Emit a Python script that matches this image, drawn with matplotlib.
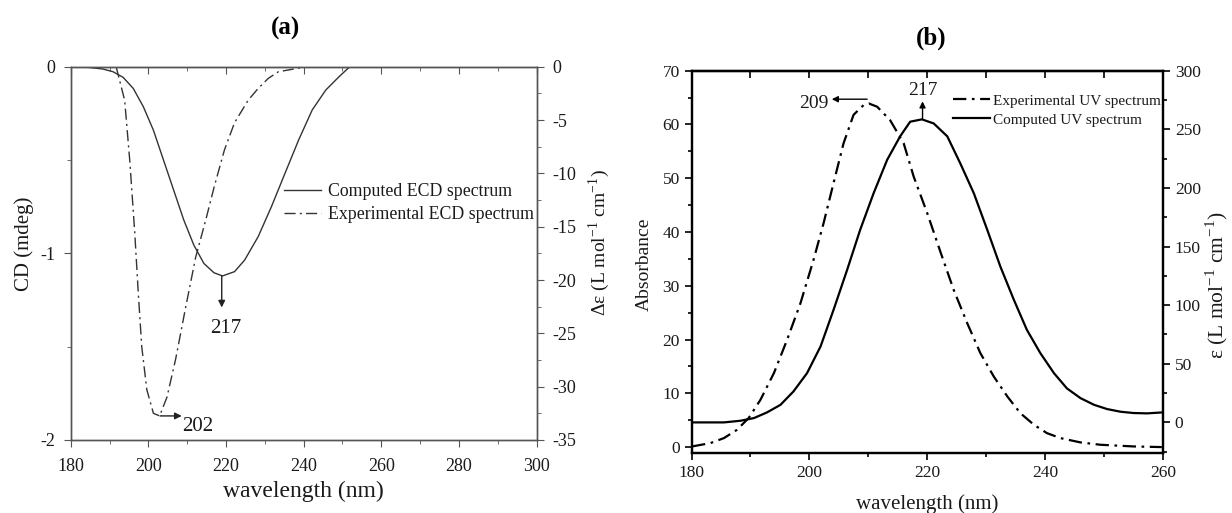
import matplotlib
matplotlib.use("Agg")
import matplotlib.pyplot as plt
from matplotlib.ticker import MultipleLocator

plt.rcParams['font.family'] = ['Liberation Serif', 'DejaVu Serif']
plt.rcParams['mathtext.fontset'] = 'stix'

# ---------------- Panel (a): ECD ----------------
ecd_comp_wl = [179.6, 184.8, 188.3, 190.9, 193.5, 196.1, 198.7, 201.3, 203.9, 206.5,
               209.1, 211.7, 214.3, 216.9, 219.1, 222.2, 224.8, 228.3, 231.7, 235.2,
               238.7, 242.2, 245.7, 249.1, 252.6]
ecd_comp_cd = [0, -0.004, -0.0125, -0.027, -0.057, -0.116, -0.214, -0.34, -0.5, -0.66,
               -0.82, -0.955, -1.054, -1.104, -1.121, -1.098, -1.036, -0.91, -0.75, -0.571,
               -0.393, -0.232, -0.125, -0.054, 0.014]
ecd_exp_wl = [191.7, 193.9, 195.2, 196.5, 197.4, 198.3, 199.6, 201.3, 202.9, 204.8,
              207, 209.6, 212.2, 214.8, 217, 219.6, 222.2, 225.7, 228.3, 230.9,
              233.5, 237, 239.6]
ecd_exp_cd = [0, -0.18, -0.5, -0.89, -1.21, -1.5, -1.73, -1.857, -1.871, -1.77,
              -1.57, -1.29, -1.02, -0.82, -0.64, -0.446, -0.30, -0.18, -0.116, -0.0625,
              -0.027, -0.014, -0.004]

# ---------------- Panel (b): UV ----------------
uv_exp_wl = [180.1, 183.2, 185.5, 187.7, 189.7, 191.7, 194, 196.2, 198.5, 200.7,
             202.4, 204.1, 205.8, 207.5, 209.2, 210.1, 211.5, 213.7, 216, 217.7,
             220, 222.3, 224.5, 226.8, 229, 231.3, 233.6, 235.8, 238.1, 240.3,
             242.6, 246, 249.4, 255, 259.8]
uv_exp_abs = [0.12, 0.74, 1.67, 3.2, 5.4, 8.8, 13.8, 19.9, 26.8, 34.8,
              41.6, 49.1, 56.5, 61.8, 63.6, 63.9, 63.3, 60.8, 56.5, 50.3,
              43.5, 36.1, 29.2, 23.0, 17.5, 13.1, 9.4, 6.3, 4.15, 2.6,
              1.67, 0.87, 0.43, 0.12, 0]
uv_comp_wl = [180.1, 185.5, 188.3, 190.6, 192.8, 195.1, 197.3, 199.6, 201.9, 204.1,
              206.4, 208.6, 210.9, 213.2, 215.4, 217.1, 219.1, 221.1, 223.4, 225.6,
              227.9, 230.2, 232.4, 234.7, 236.9, 239.2, 241.5, 243.7, 246, 248.3,
              250.5, 252.8, 255, 257.3, 259.8]
uv_comp_eps = [0, 0, 1.4, 3.7, 8.5, 15, 26.4, 42, 64.8, 96,
               130, 164, 195.5, 224, 244, 256.5, 258.5, 255, 244, 221,
               195.5, 164, 133, 104.5, 79, 59, 42, 29, 20.7, 15,
               11.4, 9.1, 8, 7.7, 8.5]

W, H = 1232, 513
fig = plt.figure(figsize=(W / 100, H / 100), dpi=100)

txt = '#1a1a1a'
dashdot_a = (0, (8, 3, 1.5, 3))
dashdot_b = (0, (6, 2.5, 1.2, 2.5))
sup = r'$^{\mathregular{-1}}$'

# ---- Panel (a)
a_l, a_r, a_t, a_b = 70.7, 536.6, 66.7, 440.0
aw, ah = a_r - a_l, a_b - a_t
axa = fig.add_axes([a_l / W, 1 - a_b / H, aw / W, ah / H])
axa2 = axa.twinx()
axa.plot(ecd_exp_wl, ecd_exp_cd, color='#333333', lw=1.0, linestyle=dashdot_a,
         label='Experimental ECD spectrum')
comp_de = [v * 17.5 for v in ecd_comp_cd]
axa2.plot(ecd_comp_wl, comp_de, color='#333333', lw=1.0, label='Computed ECD spectrum')
axa.set_xlim(180, 300)
axa.set_ylim(-2, 0)
axa2.set_ylim(-35, 0)
axa.xaxis.set_major_locator(MultipleLocator(20))
axa.xaxis.set_minor_locator(MultipleLocator(10))
axa.set_yticks([0, -1, -2])
axa.set_yticklabels(['0', '-1', '-2'])
axa.yaxis.set_minor_locator(MultipleLocator(0.5))
axa2.set_yticks(list(range(0, -36, -5)))
axa2.set_yticklabels([str(v) for v in range(0, -36, -5)])
axa2.yaxis.set_minor_locator(MultipleLocator(2.5))
for ax in (axa, axa2):
    for s in ax.spines.values():
        s.set_color('#555555')
        s.set_linewidth(1.0)
axa.tick_params(axis='both', which='both', direction='out', colors='#555555',
                labelcolor=txt, labelsize=13)
axa.tick_params(which='major', length=5)
axa.tick_params(which='minor', length=3)
axa.tick_params(axis='x', which='major', pad=8)
axa.tick_params(axis='y', which='major', pad=6)
seca = axa.secondary_xaxis('top')
seca.xaxis.set_major_locator(MultipleLocator(20))
seca.xaxis.set_minor_locator(MultipleLocator(10))
seca.tick_params(which='both', direction='in', colors='#555555', labeltop=False)
seca.tick_params(which='major', length=5)
seca.tick_params(which='minor', length=3)
seca.spines['top'].set_color('#555555')
axa2.tick_params(axis='y', which='both', direction='out', colors='#555555',
                 labelcolor=txt, labelsize=13, pad=6)
axa2.tick_params(which='major', length=5)
axa2.tick_params(which='minor', length=3)
axa.set_xlabel('wavelength (nm)', fontsize=17, color=txt)
axa.xaxis.set_label_coords(0.5, -(481 - a_b) / ah)
axa.set_ylabel('CD (mdeg)', fontsize=15, color=txt)
axa.yaxis.set_label_coords(-(a_l - 34) / aw, (a_b - 244) / ah)
axa2.set_ylabel('Δε (L mol' + sup + ' cm' + sup + ')', fontsize=14, color=txt)
axa2.yaxis.set_label_coords(1 + (587 - a_r) / aw, (a_b - 242) / ah)
fig.text(286 / W, 1 - 28 / H, '(a)', fontsize=18, fontweight='bold', color='black',
         ha='center', va='center')

# annotations (a)
axa2.annotate('', xy=(218.9, -1.29 * 17.5), xytext=(218.9, -1.121 * 17.5),
              arrowprops=dict(arrowstyle='-|>', color='#222222', lw=1.0,
                              mutation_scale=10, shrinkA=0, shrinkB=0))
axa2.text(220.0, -1.40 * 17.5, '217', fontsize=15, color=txt, ha='center', va='center')
axa.annotate('', xy=(208.6, -1.871), xytext=(203.0, -1.871),
             arrowprops=dict(arrowstyle='-|>', color='#222222', lw=1.0,
                             mutation_scale=10, shrinkA=0, shrinkB=0))
axa.text(208.7, -1.925, '202', fontsize=15, color=txt, ha='left', va='center')

# legend (a)
h1, l1 = axa2.get_legend_handles_labels()
h2, l2 = axa.get_legend_handles_labels()
leg = axa2.legend(h1 + h2, l1 + l2, loc='upper left',
                  bbox_to_anchor=((284 - a_l) / aw, 1 - (183 - a_t) / ah),
                  frameon=False, fontsize=12.8, handlelength=2.1, handletextpad=0.4,
                  labelspacing=0.35, borderaxespad=0, borderpad=0)
for t in leg.get_texts():
    t.set_color(txt)

# ---- Panel (b)
b_l, b_r, b_t, b_b = 691.5, 1163.0, 70.7, 453.0
bw, bh = b_r - b_l, b_b - b_t
axb = fig.add_axes([b_l / W, 1 - b_b / H, bw / W, bh / H])
axb2 = axb.twinx()
axb.plot(uv_exp_wl, uv_exp_abs, color='black', lw=1.6, linestyle=dashdot_b,
         label='Experimental UV spectrum')
axb2.plot(uv_comp_wl, uv_comp_eps, color='black', lw=1.6, label='Computed UV spectrum')
axb.set_xlim(180, 260)
axb.set_ylim(-1.1, 70)
axb2.set_ylim(-26.1, 300)
axb.xaxis.set_major_locator(MultipleLocator(20))
axb.xaxis.set_minor_locator(MultipleLocator(10))
axb.set_yticks(range(0, 71, 10))
axb.yaxis.set_minor_locator(MultipleLocator(5))
axb2.set_yticks(range(0, 301, 50))
axb2.yaxis.set_minor_locator(MultipleLocator(25))
for ax in (axb, axb2):
    for s in ax.spines.values():
        s.set_color('black')
        s.set_linewidth(1.6)
axb.tick_params(axis='both', which='both', direction='out', width=1.2,
                labelcolor=txt, labelsize=12.5)
axb.tick_params(which='major', length=5)
axb.tick_params(which='minor', length=3)
secb = axb.secondary_xaxis('top')
secb.xaxis.set_major_locator(MultipleLocator(10))
secb.tick_params(which='both', direction='in', length=5, width=1.2, labeltop=False)
secb.spines['top'].set_linewidth(1.6)
axb2.tick_params(axis='y', which='both', direction='out', width=1.2,
                 labelcolor=txt, labelsize=12.5)
axb2.tick_params(which='major', length=5)
axb2.tick_params(which='minor', length=3)
axb.set_xlabel('wavelength (nm)', fontsize=15, color=txt)
axb.xaxis.set_label_coords(0.5, -(494 - b_b) / bh)
axb.set_ylabel('Absorbance', fontsize=14, color=txt)
axb.yaxis.set_label_coords(-(b_l - 653) / bw, (b_b - 264) / bh)
axb2.set_ylabel('ε (L mol' + sup + ' cm' + sup + ')', fontsize=15.5, color=txt)
axb2.yaxis.set_label_coords(1 + (1204 - b_r) / bw, (b_b - 285) / bh)
fig.text(931 / W, 1 - 38 / H, '(b)', fontsize=18, fontweight='bold', color='black',
         ha='center', va='center')

# annotations (b)
axb.annotate('', xy=(203.8, 64.7), xytext=(209.8, 64.7),
             arrowprops=dict(arrowstyle='-|>', color='black', lw=1.0,
                             mutation_scale=9, shrinkA=0, shrinkB=0))
axb.text(200.7, 63.9, '209', fontsize=14, color=txt, ha='center', va='center')
axb.annotate('', xy=(219.2, 64.3), xytext=(219.2, 61.1),
             arrowprops=dict(arrowstyle='-|>', color='black', lw=1.0,
                             mutation_scale=9, shrinkA=0, shrinkB=0))
axb.text(219.3, 66.3, '217', fontsize=14, color=txt, ha='center', va='center')

# legend (b)
h1, l1 = axb.get_legend_handles_labels()
h2, l2 = axb2.get_legend_handles_labels()
legb = axb2.legend(h1 + h2, l1 + l2, loc='upper left',
                   bbox_to_anchor=((953 - b_l) / bw, 1 - (94 - b_t) / bh),
                   frameon=False, fontsize=11, handlelength=2.4, handletextpad=0.25,
                   labelspacing=0.35, borderaxespad=0, borderpad=0)
for t in legb.get_texts():
    t.set_color(txt)

fig.savefig('out.png', dpi=100)
